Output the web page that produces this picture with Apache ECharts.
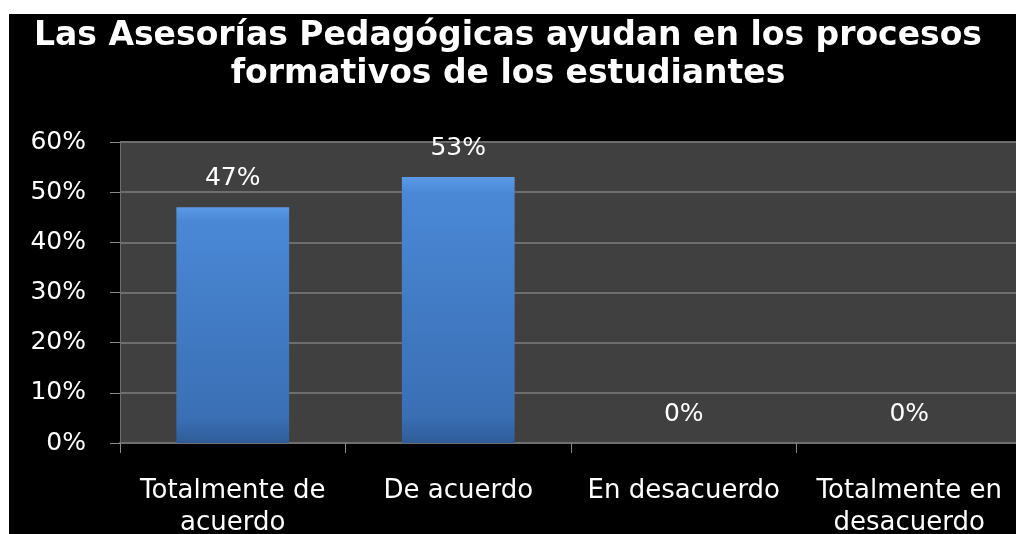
<!DOCTYPE html>
<html>
<head>
<meta charset="utf-8">
<script src="https://cdn.jsdelivr.net/npm/echarts@6/dist/echarts.min.js"></script>
<style>
  html, body { margin: 0; padding: 0; background: #fff; }
  #chart { width: 1016px; height: 534px; }
</style>
</head>
<body>
<div id="chart"></div>
<script>
var titulo = "Las Asesorías Pedagógicas ayudan en los procesos\nformativos de los estudiantes";
var categorias = ["Totalmente de\nacuerdo", "De acuerdo", "En desacuerdo", "Totalmente en\ndesacuerdo"];
var valores = [47, 53, 0, 0];
var ticksY = [0, 10, 20, 30, 40, 50, 60];

var chart = echarts.init(document.getElementById("chart"));
chart.setOption({
  backgroundColor: "#ffffff",
  animation: false,
  graphic: [
    {
      type: "rect",
      z: -10,
      shape: { x: 9, y: 14, width: 1010, height: 525 },
      style: { fill: "#000000" }
    }
  ],
  title: {
    text: titulo,
    left: "center",
    top: 12,
    textStyle: {
      color: "#ffffff",
      fontFamily: "DejaVu Sans",
      fontWeight: "bold",
      fontSize: 33,
      lineHeight: 38
    }
  },
  grid: {
    left: 120,
    right: -6,
    top: 142,
    bottom: 91,
    outerBoundsMode: "none",
    containLabel: false,
    show: true,
    borderWidth: 0,
    backgroundColor: "#404040"
  },
  xAxis: {
    type: "category",
    data: categorias,
    axisLine: { lineStyle: { color: "#6e6e6e", width: 2 } },
    axisTick: { show: true, length: 10, lineStyle: { color: "#8a8a8a", width: 1 } },
    axisLabel: {
      color: "#ffffff",
      fontFamily: "DejaVu Sans",
      fontSize: 26,
      lineHeight: 32,
      margin: 32,
      interval: 0
    }
  },
  yAxis: {
    type: "value",
    min: ticksY[0],
    max: ticksY[ticksY.length - 1],
    interval: 10,
    axisLine: { show: true, lineStyle: { color: "#6e6e6e", width: 1 } },
    axisTick: { show: true, length: 10, lineStyle: { color: "#8a8a8a", width: 1 } },
    axisLabel: {
      color: "#ffffff",
      fontFamily: "DejaVu Sans",
      fontSize: 25,
      margin: 34,
      formatter: "{value}%"
    },
    splitLine: { show: true, lineStyle: { color: "#6e6e6e", width: 2 } }
  },
  series: [
    {
      type: "bar",
      data: valores,
      barWidth: "50%",
      itemStyle: {
        color: {
          type: "linear", x: 0, y: 0, x2: 0, y2: 1,
          colorStops: [
            { offset: 0, color: "#5a9ae6" },
            { offset: 0.06, color: "#4a88d6" },
            { offset: 0.9, color: "#3a6fb4" },
            { offset: 1, color: "#2f5c98" }
          ]
        }
      },
      label: {
        show: true,
        position: "top",
        distance: 16,
        color: "#ffffff",
        fontFamily: "DejaVu Sans",
        fontSize: 25,
        formatter: "{c}%"
      }
    }
  ]
});
</script>
</body>
</html>
